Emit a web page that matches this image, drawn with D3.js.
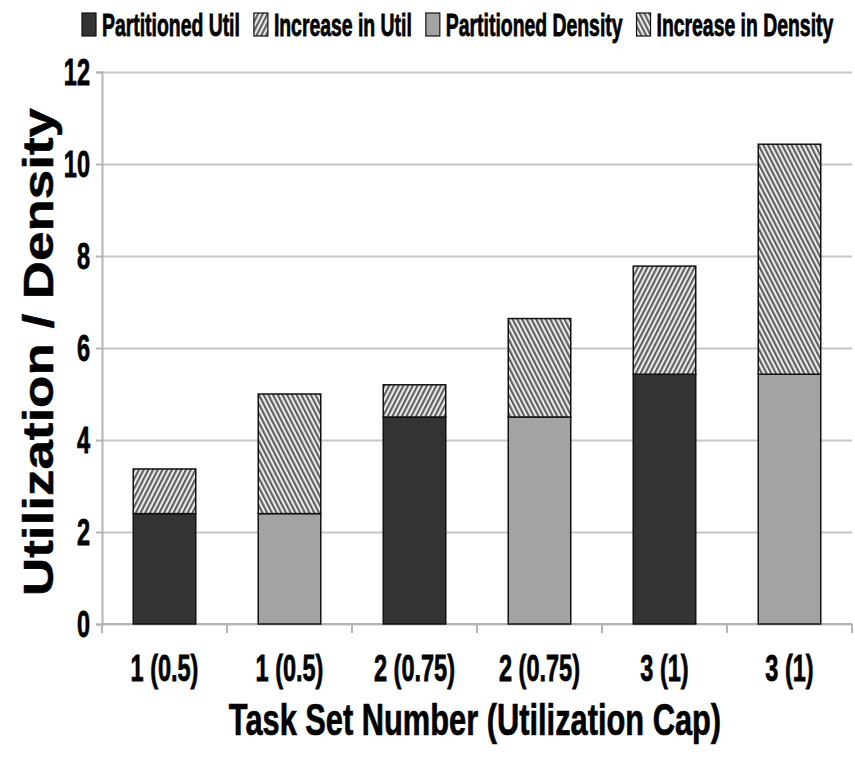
<!DOCTYPE html>
<html>
<head>
<meta charset="utf-8">
<script src="https://cdn.jsdelivr.net/npm/d3@7"></script>
<style>
  body { margin: 0; background: #fff; }
  text { font-family: "Liberation Sans", Arial, sans-serif; font-weight: bold; fill: #000; stroke: #000; stroke-width: 0.5; }
</style>
</head>
<body>
<svg id="chart"></svg>
<script>
// data
const categories = ["1 (0.5)", "1 (0.5)", "2 (0.75)", "2 (0.75)", "3 (1)", "3 (1)"];
const barKind = ["util", "density", "util", "density", "util", "density"];
const partitionedValues = [2.4, 2.4, 4.5, 4.5, 5.43, 5.43];
const increaseValues = [0.97, 2.6, 0.7, 2.14, 2.35, 5.0];
const yTicks = [0, 2, 4, 6, 8, 10, 12];
const legendLabels = ["Partitioned Util", "Increase in Util", "Partitioned Density", "Increase in Density"];
const legendFills = ["#333333", "url(#hatchUtil)", "#a3a3a3", "url(#hatchDensity)"];

const W = 855, H = 762;
const margin = {top: 72, right: 3, bottom: 138, left: 102};

const svg = d3.select("#chart").attr("width", W).attr("height", H);

// hatch patterns
const defs = svg.append("defs");
function hatch(id, angle) {
    const p = defs.append("pattern")
        .attr("id", id)
        .attr("patternUnits", "userSpaceOnUse")
        .attr("width", 4.2).attr("height", 4.2)
        .attr("patternTransform", `rotate(${angle})`);
    p.append("rect").attr("width", 4.2).attr("height", 4.2).attr("fill", "#ececec");
    p.append("rect").attr("width", 2.1).attr("height", 4.2).attr("fill", "#5e5e5e");
}
hatch("hatchUtil", 27);
hatch("hatchDensity", -27);

// text stretched vertically like the original picture
function stretched(parent, x, y, str, size, k, anchor) {
    return parent.append("text")
        .attr("transform", `translate(${x},${y}) scale(1,${k})`)
        .attr("font-size", size)
        .attr("text-anchor", anchor)
        .text(str);
}

const x = d3.scaleBand()
    .domain(d3.range(categories.length))
    .range([margin.left, W - margin.right])
    .paddingInner(0.5)
    .paddingOuter(0.25);

const y = d3.scaleLinear()
    .domain([0, 12])
    .range([H - margin.bottom, margin.top]);

// gridlines
svg.append("g")
    .attr("transform", `translate(${margin.left},0)`)
    .call(d3.axisLeft(y).tickValues(yTicks).tickSize(-(W - margin.right - margin.left)).tickFormat(""))
    .call(g => g.select(".domain").remove())
    .call(g => g.selectAll(".tick line").attr("stroke", "#c6c6c6").attr("stroke-width", 2));

// y axis
const yAxisG = svg.append("g")
    .attr("transform", `translate(${margin.left},0)`)
    .call(d3.axisLeft(y).tickValues(yTicks).tickSize(6).tickFormat(""));
yAxisG.select(".domain").attr("stroke", "#b4b4b4").attr("stroke-width", 2);
yAxisG.selectAll(".tick line").attr("stroke", "#b4b4b4").attr("stroke-width", 2);

yTicks.forEach(t => {
    stretched(svg, 90, y(t) + 0.358 * 23.5 * 1.6, t, 23.5, 1.6, "end");
});

// x axis
const x0 = y(0);
svg.append("line")
    .attr("x1", margin.left).attr("x2", W - margin.right)
    .attr("y1", x0).attr("y2", x0)
    .attr("stroke", "#b4b4b4").attr("stroke-width", 2);
d3.range(categories.length + 1).forEach(i => {
    const bx = i < categories.length ? x(i) - x.step() * x.paddingInner() / 2 : W - margin.right;
    svg.append("line")
        .attr("x1", bx).attr("x2", bx)
        .attr("y1", x0).attr("y2", x0 + 9)
        .attr("stroke", "#b4b4b4").attr("stroke-width", 2);
});
categories.forEach((c, i) => {
    stretched(svg, x(i) + x.bandwidth() / 2, x0 + 57, c, 23.5, 1.6, "middle");
});

// bars
const bars = svg.append("g");
categories.forEach((c, i) => {
    const base = partitionedValues[i];
    const inc = increaseValues[i];
    const util = barKind[i] === "util";
    bars.append("rect")
        .attr("x", x(i)).attr("width", x.bandwidth())
        .attr("y", y(base)).attr("height", y(0) - y(base))
        .attr("fill", util ? legendFills[0] : legendFills[2])
        .attr("stroke", "#111").attr("stroke-width", 1.5);
    bars.append("rect")
        .attr("x", x(i)).attr("width", x.bandwidth())
        .attr("y", y(base + inc)).attr("height", y(base) - y(base + inc))
        .attr("fill", util ? legendFills[1] : legendFills[3])
        .attr("stroke", "#111").attr("stroke-width", 1.5);
});

// legend
const legend = svg.append("g");
let lx = 82;
legendLabels.forEach((lab, i) => {
    legend.append("rect")
        .attr("x", lx).attr("y", 13).attr("width", 14).attr("height", 23)
        .attr("fill", legendFills[i])
        .attr("stroke", "#111").attr("stroke-width", 1.2);
    const t = stretched(legend, lx + 20, 36, lab, 19.4, 1.65, "start");
    lx += 20 + t.node().getComputedTextLength() + 14;
});

// axis titles
svg.append("text")
    .attr("transform", "translate(53,352) rotate(-90) scale(1.26,1)")
    .attr("font-size", 42)
    .attr("text-anchor", "middle")
    .text("Utilization / Density");

stretched(svg, 475, 735, "Task Set Number (Utilization Cap)", 30.8, 1.45, "middle");
</script>
</body>
</html>
